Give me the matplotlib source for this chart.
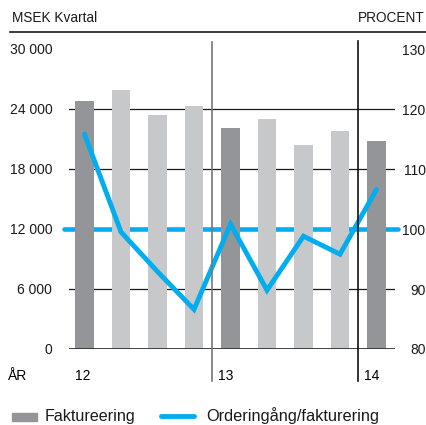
import matplotlib
matplotlib.use("Agg")
import matplotlib.pyplot as plt
from matplotlib.patches import Rectangle
from matplotlib.lines import Line2D

plt.rcParams['font.family'] = ['Liberation Sans', 'DejaVu Sans']

# Data
quarters = list(range(9))
fakturering = [24800, 25900, 23400, 24300, 22100, 23000, 20400, 21800, 20800]
bar_kind = ['dark', 'light', 'light', 'light', 'dark', 'light', 'light', 'light', 'dark']
order_ratio = [115.8, 99.5, 92.9, 86.6, 100.8, 89.8, 98.8, 95.8, 106.6]
left_ticks = [0, 6000, 12000, 18000, 24000, 30000]
left_labels = ['0', '6 000', '12 000', '18 000', '24 000', '30 000']
right_ticks = [80, 90, 100, 110, 120, 130]
year_labels = ['12', '13', '14']
year_pos = [-0.4, 3.5, 7.5]
year_dividers = [3.5, 7.5]

DARK = '#939598'
LIGHT = '#c7c8ca'
BLUE = '#00aeef'

W, H = 427, 425
fig = plt.figure(figsize=(W / 100, H / 100), dpi=100)
ax = fig.add_axes([69 / W, 1 - 349 / H, (395 - 69) / W, 300 / H])
ax2 = ax.twinx()

ax.set_xlim(-0.425, 8.507)
ax.set_ylim(0, 30000)
ax2.set_ylim(80, 130)
ax2.set_zorder(ax.get_zorder() - 1)
ax.patch.set_visible(False)

# gridlines behind everything
for t in left_ticks[1:-1]:
    ax.axhline(t, color='#1a1a1a', lw=0.9, zorder=0)
ax.axhline(0, color='#333333', lw=1.3, zorder=3)

# reference line at 100% behind bars (drawn in ax2 coordinates)
ax.plot([-0.55, 8.6], [100, 100], color=BLUE, lw=3.3, solid_capstyle='round',
        clip_on=False, zorder=1, transform=ax2.transData)

colors = [DARK if k == 'dark' else LIGHT for k in bar_kind]
ax.bar(quarters, fakturering, width=0.52, color=colors, zorder=2)

# ratio line on top
ax.plot(quarters, order_ratio, color=BLUE, lw=3.5, solid_joinstyle='miter',
        solid_capstyle='round', zorder=4, transform=ax2.transData)

# year dividers
ax.axvline(year_dividers[0], ymin=-0.107, ymax=1.025, color='#777777', lw=1.2,
           clip_on=False, zorder=5)
ax.axvline(year_dividers[1], ymin=-0.107, ymax=1.028, color='#111111', lw=1.2,
           clip_on=False, zorder=5)

for s in list(ax.spines.values()) + list(ax2.spines.values()):
    s.set_visible(False)
ax.set_xticks([])
ax.set_yticks(left_ticks)
ax.set_yticklabels(left_labels)
ax.tick_params(axis='y', length=0, pad=12, labelsize=10, colors='#1a1a1a')
ax2.set_yticks(right_ticks)
ax2.set_yticklabels([str(v) for v in right_ticks])
ax2.tick_params(axis='y', length=0, pad=22, labelsize=10, colors='#1a1a1a')
for lab in ax2.get_yticklabels():
    lab.set_horizontalalignment('right')

# year row
ax.text(-0.56 - 1.55, -2700, 'ÅR', fontsize=10, va='center', ha='left', clip_on=False)
for p, lab in zip(year_pos, year_labels):
    ax.text(p + 0.15, -2700, lab, fontsize=10, va='center', ha='left', clip_on=False)

# header
fig.text(12 / W, 1 - 18 / H, 'MSEK Kvartal', fontsize=9.8, va='center', ha='left', color='#1a1a1a')
fig.text(425 / W, 1 - 18 / H, 'PROCENT', fontsize=9.8, va='center', ha='right', color='#1a1a1a')
fig.add_artist(Line2D([10 / W, 1.0], [1 - 32 / H, 1 - 32 / H], color='#1a1a1a', lw=1.2))

# legend
fig.add_artist(Rectangle((12 / W, 1 - 421 / H), 25 / W, 8 / H, color=DARK))
fig.text(45 / W, 1 - 416 / H, 'Faktureering', fontsize=11.6, va='center', ha='left', color='#1a1a1a')
fig.add_artist(Line2D([161 / W, 194 / W], [1 - 416 / H, 1 - 416 / H], color=BLUE, lw=3.5,
                      solid_capstyle='round'))
fig.text(206 / W, 1 - 416 / H, 'Orderingång/fakturering', fontsize=11.8, va='center', ha='left',
         color='#1a1a1a')

fig.savefig('out.png', dpi=100)
